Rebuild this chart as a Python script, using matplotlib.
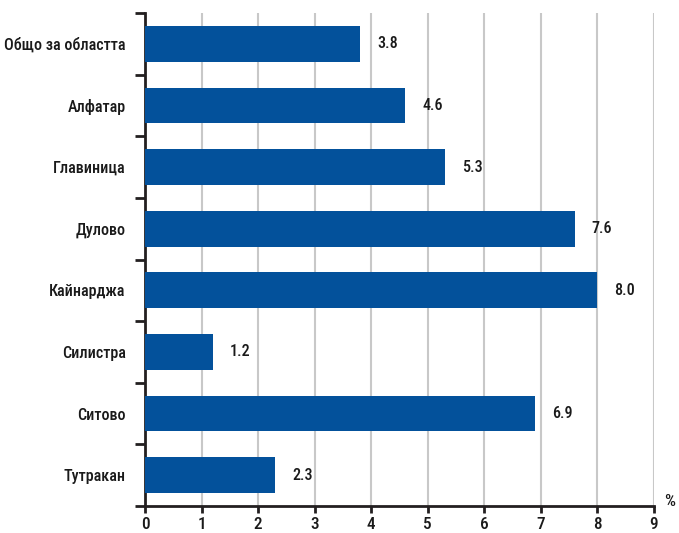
import matplotlib
matplotlib.use("Agg")
import matplotlib.pyplot as plt
from matplotlib.ticker import FixedLocator
import numpy as np

categories = ["Общо за областта", "Алфатар", "Главиница", "Дулово",
              "Кайнарджа", "Силистра", "Ситово", "Тутракан"]
values = [3.8, 4.6, 5.3, 7.6, 8.0, 1.2, 6.9, 2.3]
value_labels = ["3.8", "4.6", "5.3", "7.6", "8.0", "1.2", "6.9", "2.3"]
xticks = [0, 1, 2, 3, 4, 5, 6, 7, 8, 9]

plt.rcParams['font.family'] = ['Roboto Condensed', 'Liberation Sans Narrow',
                               'Open Sans Condensed', 'Liberation Sans', 'DejaVu Sans']
plt.rcParams['font.stretch'] = 'condensed'

TXT = dict(fontsize=11.6, fontweight="medium", color="#1a1a1a")
TXT_X = dict(fontsize=12.4, fontweight="medium", color="#1a1a1a")

W, H = 679, 533
fig = plt.figure(figsize=(W/100, H/100), dpi=100)
ax = fig.add_axes([145/W, 1 - 506/H, (654-145)/W, (506-13)/H])

n = len(categories)
y = np.arange(n)
bar_color = "#03519B"
ax.barh(y, values, height=0.58, color=bar_color, zorder=3)
ax.set_ylim(n - 0.5, -0.5)
ax.set_xlim(0, 9)

for yi, v, lab in zip(y, values, value_labels):
    ax.annotate(lab, (v, yi), xytext=(17, 0), textcoords="offset pixels",
                ha="left", va="center", **TXT)

ax.set_yticks(y)
ax.set_yticklabels(categories, **TXT)
ax.tick_params(axis='y', which='major', length=0, pad=14)
ax.yaxis.set_minor_locator(FixedLocator(np.arange(-0.5, n, 1.0)))
ax.tick_params(axis='y', which='minor', length=7, width=2, color="#231F20", direction='out')

ax.set_xticks(xticks)
ax.set_xticklabels([str(t) for t in xticks], **TXT_X)
ax.tick_params(axis='x', length=5, width=2, color="#231F20", direction='out', pad=3)

ax.grid(axis='x', color="#C8C8C8", linewidth=1.5, zorder=0)
ax.set_axisbelow(True)

for s in ['top', 'right']:
    ax.spines[s].set_visible(False)
for s in ['left', 'bottom']:
    ax.spines[s].set_color("#231F20")
    ax.spines[s].set_linewidth(2)

fig.text(670/W, 1 - 502/H, "%", ha="center", va="center", **TXT_X)

fig.savefig("out.png", dpi=100)
